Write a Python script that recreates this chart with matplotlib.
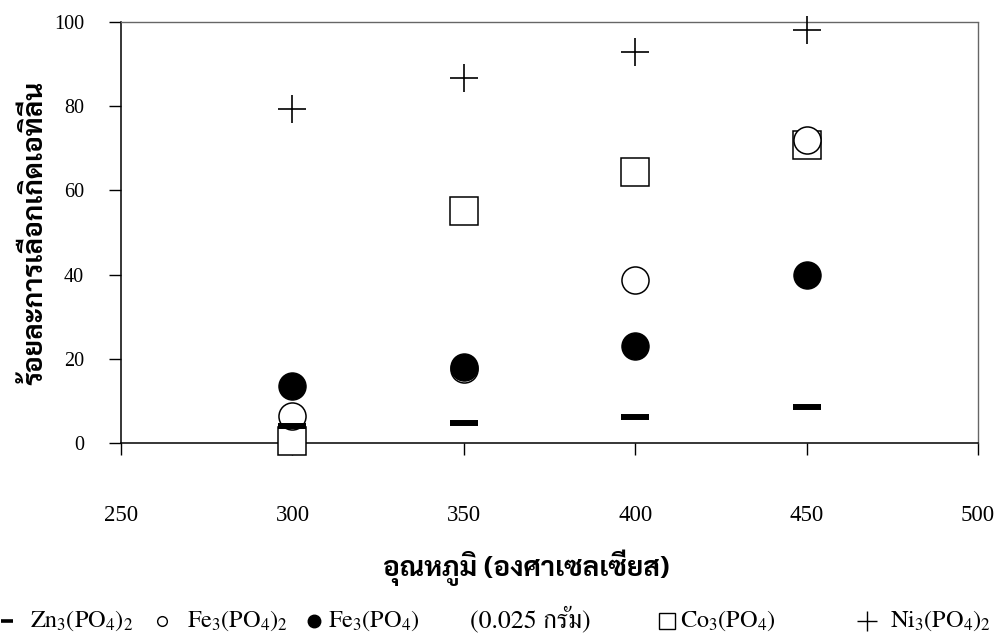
import matplotlib
matplotlib.use("Agg")
import matplotlib.pyplot as plt
from matplotlib.lines import Line2D

# temperature (deg C) and ethylene selectivity (%) per catalyst
temps = [300, 350, 400, 450]
zn3po4 = [4.0, 4.75, 6.2, 8.5]
fe3po4 = [6.5, 17.5, 38.7, 72.0]
fe3po4_small = [13.5, 18.1, 23.0, 40.0]
co3po4 = [0.5, 55.1, 64.4, 70.8]
ni3po4 = [79.3, 86.7, 92.9, 98.1]

x_ticks = [250, 300, 350, 400, 450, 500]
y_ticks = [0, 20, 40, 60, 80, 100]

legend_labels = [
    "Zn$_3$(PO$_4$)$_2$",
    "Fe$_3$(PO$_4$)$_2$",
    "Fe$_3$(PO$_4$)",
    "Co$_3$(PO$_4$)",
    "Ni$_3$(PO$_4$)$_2$",
]
fe_note = "(0.025 กรัม)"
x_label = "อุณหภูมิ (องศาเซลเซียส)"
y_label = "ร้อยละการเลือกเกิดเอทิลีน"

plt.rcParams["mathtext.fontset"] = "custom"
plt.rcParams["mathtext.rm"] = "FreeSerif"
plt.rcParams["mathtext.default"] = "regular"

W, H = 1002, 640
fig = plt.figure(figsize=(W / 100, H / 100), dpi=100)
ax = fig.add_axes([0.1208, 0.3078, 0.8553, 0.6578])

ax.plot(temps, co3po4, ls="none", marker="s", ms=19.5, mfc="white", mec="k", mew=1.1, clip_on=False, zorder=3)
ax.plot(temps, fe3po4, ls="none", marker="o", ms=19.5, mfc="white", mec="k", mew=1.1, clip_on=False, zorder=4)
ax.plot(temps, fe3po4_small, ls="none", marker="o", ms=19.5, color="k", clip_on=False, zorder=5)
ax.plot(temps, zn3po4, ls="none", marker="_", ms=20, mew=4.3, color="k", clip_on=False, zorder=6)
ax.plot(temps, ni3po4, ls="none", marker="+", ms=20, mew=1.2, color="k", clip_on=False, zorder=7)

ax.set_xlim(250, 500)
ax.set_ylim(0, 100)
ax.set_xticks(x_ticks)
ax.set_yticks(y_ticks)
ax.set_xticklabels([str(v) for v in x_ticks], fontfamily="Liberation Serif", fontsize=16.5)
ax.set_yticklabels([str(v) for v in y_ticks], fontfamily="Liberation Serif", fontsize=14.5)
ax.tick_params(axis="x", direction="out", length=8.5, width=1, pad=36)
ax.tick_params(axis="y", direction="out", length=8.5, width=1, pad=18)

for side in ["top", "right"]:
    ax.spines[side].set_linestyle((0, (1, 1)))
    ax.spines[side].set_color("#666666")
    ax.spines[side].set_linewidth(1)
for side in ["left", "bottom"]:
    ax.spines[side].set_linewidth(1.1)

ax.set_xlabel(x_label, fontfamily=["Sarabun", "DejaVu Sans"], fontweight="bold", fontsize=20)
ax.xaxis.set_label_coords((526 - 121) / 857, -0.252)
ax.set_ylabel(y_label, fontfamily=["Sarabun", "DejaVu Sans"], fontweight="bold", fontsize=20)
ax.yaxis.set_label_coords(-0.085, 0.5)

# legend row under the chart, laid out by hand like the original
legend_markers = [
    dict(marker="_", ms=8, mew=2.6, color="k"),
    dict(marker="o", ms=7, mfc="none", mec="k", mew=1),
    dict(marker="o", ms=9, color="k"),
    dict(marker="s", ms=11, mfc="none", mec="k", mew=1),
    dict(marker="+", ms=14, mew=1, color="k"),
]
marker_x = [7, 162, 314, 667, 867]
text_x = [30, 187, 328, 680, 890]
base_y = 1 - 627 / H
for label, style, mx, tx in zip(legend_labels, legend_markers, marker_x, text_x):
    fig.add_artist(Line2D([mx / W], [1 - 621 / H], ls="none", transform=fig.transFigure, **style))
    fig.text(tx / W, base_y, label, ha="left", va="baseline",
             fontfamily="FreeSerif", fontsize=17.5)
fig.text(470 / W, base_y, fe_note, ha="left", va="baseline",
         fontfamily="FreeSerif", fontsize=18.5)

fig.savefig("out.png", dpi=100)
